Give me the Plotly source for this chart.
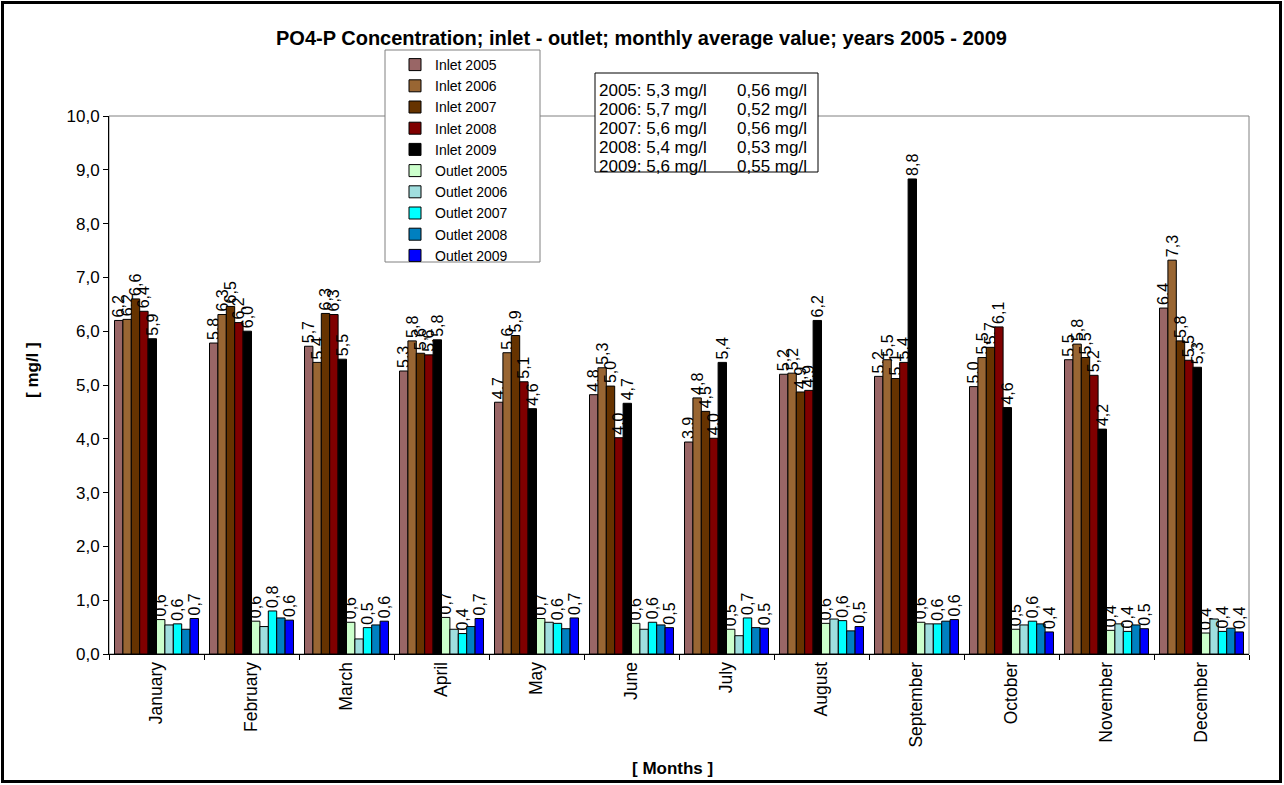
import plotly.graph_objects as go

# ---------------- data ----------------
months = ["January", "February", "March", "April", "May", "June", "July",
          "August", "September", "October", "November", "December"]
years = ["2005", "2006", "2007", "2008", "2009"]

inlet_2005 = [6.20, 5.78, 5.72, 5.26, 4.68, 4.82, 3.94, 5.20, 5.16, 4.97, 5.47, 6.43]
inlet_2006 = [6.22, 6.31, 5.42, 5.82, 5.60, 5.32, 4.76, 5.22, 5.47, 5.51, 5.76, 7.32]
inlet_2007 = [6.60, 6.46, 6.33, 5.59, 5.92, 4.98, 4.51, 4.87, 5.12, 5.70, 5.51, 5.82]
inlet_2008 = [6.37, 6.16, 6.31, 5.56, 5.06, 4.02, 4.01, 4.90, 5.42, 6.08, 5.18, 5.46]
inlet_2009 = [5.86, 6.00, 5.48, 5.84, 4.56, 4.66, 5.42, 6.20, 8.83, 4.58, 4.18, 5.33]

outlet_2005 = [0.64, 0.61, 0.59, 0.68, 0.66, 0.57, 0.46, 0.57, 0.59, 0.46, 0.44, 0.39]
outlet_2006 = [0.54, 0.51, 0.28, 0.46, 0.59, 0.46, 0.34, 0.65, 0.56, 0.54, 0.56, 0.65]
outlet_2007 = [0.56, 0.80, 0.49, 0.38, 0.57, 0.59, 0.67, 0.62, 0.56, 0.61, 0.42, 0.42]
outlet_2008 = [0.46, 0.67, 0.54, 0.51, 0.47, 0.54, 0.49, 0.43, 0.61, 0.56, 0.54, 0.48]
outlet_2009 = [0.66, 0.63, 0.61, 0.66, 0.67, 0.49, 0.48, 0.51, 0.64, 0.41, 0.47, 0.41]

inlet_avg = [5.3, 5.7, 5.6, 5.4, 5.6]
outlet_avg = [0.56, 0.52, 0.56, 0.53, 0.55]

y_ticks = [0, 1, 2, 3, 4, 5, 6, 7, 8, 9, 10]

# ---------------- styling ----------------
W, H = 1284, 785
L, R, T, B = 109, 1249, 116, 654   # plot area in pixels
FONT = "Liberation Sans, Arial, sans-serif"


def px_x(px):
    return (px - L) / (R - L)


def px_y(py):
    return (B - py) / (B - T)


def fmt(v, d=1):
    return f"{v:.{d}f}".replace(".", ",")


series = [
    ("Inlet 2005", inlet_2005, "#996666", True),
    ("Inlet 2006", inlet_2006, "#996633", True),
    ("Inlet 2007", inlet_2007, "#663300", True),
    ("Inlet 2008", inlet_2008, "#800000", True),
    ("Inlet 2009", inlet_2009, "#000000", True),
    ("Outlet 2005", outlet_2005, "#CCFFCC", True),
    ("Outlet 2006", outlet_2006, "#A0DEDE", False),
    ("Outlet 2007", outlet_2007, "#00FFFF", True),
    ("Outlet 2008", outlet_2008, "#0080C0", False),
    ("Outlet 2009", outlet_2009, "#0000FF", True),
]

fig = go.Figure()
for name, vals, color, labelled in series:
    fig.add_trace(go.Bar(
        name=name, x=months, y=vals,
        marker=dict(color=color, line=dict(color="#000000", width=1)),
        text=[fmt(v) for v in vals] if labelled else None,
        textposition="outside" if labelled else "none",
        textangle=-90,
        constraintext="none",
        cliponaxis=False,
        textfont=dict(family=FONT, size=16, color="#000000"),
        hoverinfo="x+y+name",
    ))

shapes = [
    # plot frame (grey)
    dict(type="rect", xref="paper", yref="paper", x0=0, x1=1, y0=0, y1=1,
         line=dict(color="#808080", width=1), layer="below"),
    # outer chart border
    dict(type="rect", xref="paper", yref="paper",
         x0=px_x(2.5), x1=px_x(1280.5), y0=px_y(781.5), y1=px_y(2.5),
         line=dict(color="#000000", width=3), layer="above"),
    # legend box
    dict(type="rect", xref="paper", yref="paper",
         x0=px_x(385), x1=px_x(540), y0=px_y(262), y1=px_y(50),
         line=dict(color="#808080", width=1), fillcolor="#FFFFFF", layer="above"),
    # averages text box
    dict(type="rect", xref="paper", yref="paper",
         x0=px_x(595), x1=px_x(818), y0=px_y(172), y1=px_y(73),
         line=dict(color="#000000", width=1), fillcolor="#FFFFFF", layer="above"),
]

annotations = [
    dict(text="<b>PO4-P Concentration; inlet - outlet; monthly average value; years 2005 - 2009</b>",
         xref="paper", yref="paper", x=px_x(641), y=px_y(38), xanchor="center", yanchor="middle",
         showarrow=False, font=dict(family=FONT, size=20, color="#000000")),
    dict(text="<b>[ mg/l ]</b>", xref="paper", yref="paper", x=px_x(32), y=px_y(370),
         xanchor="center", yanchor="middle", textangle=-90, showarrow=False,
         font=dict(family=FONT, size=17, color="#000000")),
    dict(text="<b>[ Months ]</b>", xref="paper", yref="paper", x=px_x(672), y=px_y(768),
         xanchor="center", yanchor="middle", showarrow=False,
         font=dict(family=FONT, size=17, color="#000000")),
]

for i, yr in enumerate(years):
    yc = 90.5 + i * 18.9
    annotations.append(dict(
        text=f"{yr}: {fmt(inlet_avg[i], 1)} mg/l", xref="paper", yref="paper",
        x=px_x(597), y=px_y(yc), xanchor="left", yanchor="middle", showarrow=False,
        font=dict(family=FONT, size=17, color="#000000")))
    annotations.append(dict(
        text=f"{fmt(outlet_avg[i], 2)} mg/l", xref="paper", yref="paper",
        x=px_x(735), y=px_y(yc), xanchor="left", yanchor="middle", showarrow=False,
        font=dict(family=FONT, size=17, color="#000000")))

fig.update_layout(
    width=W, height=H,
    margin=dict(l=L, r=W - R, t=T, b=H - B, pad=0),
    paper_bgcolor="#FFFFFF", plot_bgcolor="#FFFFFF",
    font=dict(family=FONT, size=14, color="#000000"),
    separators=",.",
    barmode="group", bargap=0.116, bargroupgap=0,
    showlegend=True,
    legend=dict(x=px_x(395), y=px_y(49), xanchor="left", yanchor="top",
                bgcolor="rgba(0,0,0,0)", borderwidth=0,
                font=dict(family=FONT, size=14, color="#000000"),
                tracegroupgap=0, traceorder="normal"),
    shapes=shapes,
    annotations=annotations,
    xaxis=dict(type="category", categoryorder="array", categoryarray=months,
               tickangle=-90, tickson="boundaries", ticks="outside", ticklen=5,
               tickcolor="#000000", showline=True, linecolor="#000000", linewidth=1,
               showgrid=False, zeroline=False,
               tickfont=dict(family=FONT, size=17.5, color="#000000")),
    yaxis=dict(range=[0, 10], tickvals=y_ticks, tickformat=".1f",
               ticks="outside", ticklen=5, tickcolor="#000000",
               showline=True, linecolor="#000000", linewidth=1,
               showgrid=False, zeroline=False,
               tickfont=dict(family=FONT, size=17, color="#000000")),
)

fig.write_html("out.html")
